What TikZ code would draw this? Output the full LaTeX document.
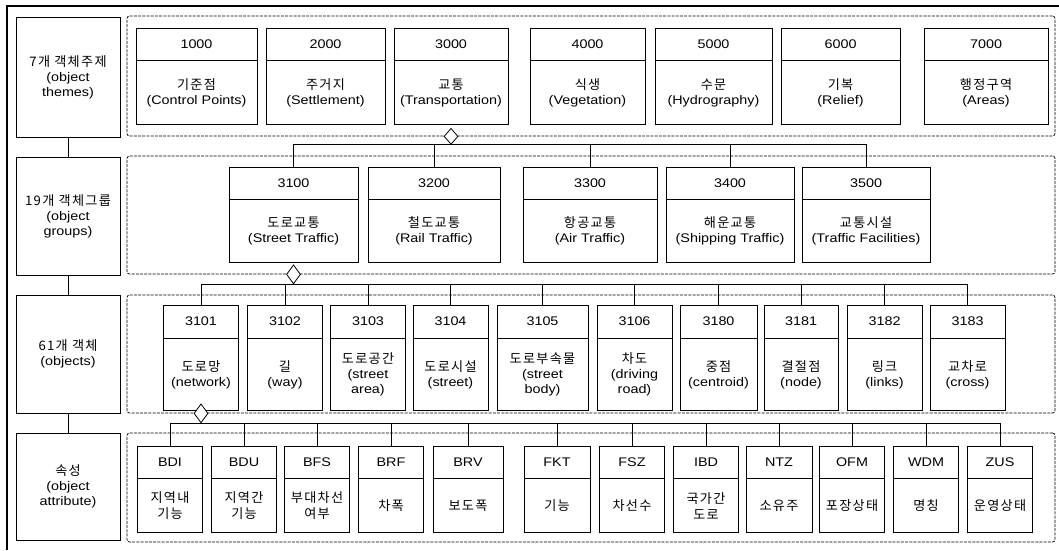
\documentclass[tikz,border=0pt]{standalone}
\usepackage{fontspec}
\setmainfont{Liberation Sans}[FakeStretch=1.15]
\newfontfamily\kr{Noto Sans CJK KR}[Scale=1.05,LetterSpace=10]
\usetikzlibrary{shapes.geometric}
\begin{document}
\begin{tikzpicture}[x=1pt,y=-1pt,
  every node/.style={font=\fontsize{12.5}{15}\selectfont},
  numbox/.style={draw, line width=0.8pt, inner sep=0pt, minimum height=32},
  labbox/.style={draw, line width=0.8pt, inner sep=0pt, align=center, anchor=north},
  lbox/.style={draw, line width=0.8pt, inner sep=0pt, align=center, minimum width=104},
  container/.style={draw, line width=0.7pt, dash pattern=on 3pt off 1.2pt, rounded corners=2.5pt, inner sep=0pt, minimum width=928},
  conn/.style={line width=0.7pt},
  agg/.style={diamond, draw, line width=0.8pt, fill=white, inner sep=0pt, minimum width=14, minimum height=19}]
\useasboundingbox (0,0) rectangle (1059,550);
\coordinate (fb) at (7,550);
\coordinate (fc) at (7,6);
\coordinate (fr) at (1059,6);
\draw[line width=1.6pt] (fb) -- (fc) -- (fr);

% containers
\node[container, minimum height=120] (C1) at (591,76) {};
\node[container, minimum height=118] (C2) at (591,215) {};
\node[container, minimum height=118] (C3) at (591,354) {};
\node[container, minimum height=109] (C4) at (591,487.5) {};

% left labels
\node[lbox, minimum height=120] (L1) at (68,77) {{\kr 7개 객체주제}\\(object\\themes)};
\node[lbox, minimum height=118] (L2) at (68,216) {{\kr 19개 객체그룹}\\(object\\groups)};
\node[lbox, minimum height=118] (L3) at (68,354) {{\kr 61개 객체}\\(objects)};
\node[lbox, minimum height=107] (L4) at (68,486.5) {{\kr 속성}\\(object\\attribute)};
\draw[conn] (L1.south) -- (L2.north);
\draw[conn] (L2.south) -- (L3.north);
\draw[conn] (L3.south) -- (L4.north);

% row 1: object themes
\foreach \id/\cx/\w/\ko/\en in {1000/196.5/121/기준점/Control Points, 2000/325.5/119/주거지/Settlement, 3000/451/114/교통/Transportation, 4000/587.5/115/식생/Vegetation, 5000/713.5/117/수문/Hydrography, 6000/840.5/119/기복/Relief, 7000/986/124/행정구역/Areas}{
  \node[numbox, minimum width=\w] (n\id) at (\cx,44) {\id};
  \node[labbox, minimum width=\w, minimum height=64] (l\id) at (n\id.south) {{\kr \ko}\\(\en)};
}

% row 2: object groups
\foreach \id/\cx/\w/\ko/\en in {3100/293.5/129/도로교통/Street Traffic, 3200/434/132/철도교통/Rail Traffic, 3300/590/134/항공교통/Air Traffic, 3400/730/128/해운교통/Shipping Traffic, 3500/866/128/교통시설/Traffic Facilities}{
  \node[numbox, minimum width=\w] (n\id) at (\cx,183) {\id};
  \node[labbox, minimum width=\w, minimum height=63] (l\id) at (n\id.south) {{\kr \ko}\\(\en)};
}

% row 3: objects
\foreach \id/\cx/\w/\ko/\en in {3101/201/75/도로망/network, 3102/285/75/길/way, 3103/368/75/도로공간/street\\area, 3104/450.5/75/도로시설/street, 3105/542.5/91/도로부속물/street\\body, 3106/634.5/75/차도/driving\\road, 3180/718.5/77/중점/centroid, 3181/801/74/결절점/node, 3182/884.5/75/링크/links, 3183/967.5/75/교차로/cross}{
  \node[numbox, minimum width=\w, minimum height=33] (n\id) at (\cx,321.5) {\id};
  \node[labbox, minimum width=\w, minimum height=72] (l\id) at (n\id.south) {{\kr \ko}\\(\en)};
}

% row 4: attributes
\foreach \id/\cx/\w/\ko in {BDI/170/65/지역내\\기능, BDU/244/65/지역간\\기능, BFS/317/65/부대차선\\여부, BRF/391/65/차폭, BRV/468/70/보도폭, FKT/557/66/기능, FSZ/632/65/차선수, IBD/706/65/국가간\\도로, NTZ/779/66/소유주, OFM/852/65/포장상태, WDM/926/65/명칭, ZUS/1000/65/운영상태}{
  \node[numbox, minimum width=\w] (n\id) at (\cx,462) {\id};
  \node[labbox, minimum width=\w, minimum height=54, font=\fontsize{12.5}{16}\selectfont\kr] (l\id) at (n\id.south) {\ko};
}

% aggregation diamonds
\node[agg, minimum height=16] (D1) at (n3000 |- C1.south) {};
\node[agg] (D2) at (n3100 |- C2.south) {};
\node[agg] (D3) at (n3101 |- C3.south) {};

% connectors
\draw[conn] (n3100.north) |- (D1.south) -| (n3500.north);
\foreach \id in {3200,3300,3400} \draw[conn] (n\id.north) -- (n\id.north |- D1.south);
\draw[conn] (n3101.north) |- (D2.south) -| (n3183.north);
\foreach \id in {3102,3103,3104,3105,3106,3180,3181,3182} \draw[conn] (n\id.north) -- (n\id.north |- D2.south);
\draw[conn] (nBDI.north) |- (D3.south) -| (nZUS.north);
\foreach \id in {BDU,BFS,BRF,BRV,FKT,FSZ,IBD,NTZ,OFM,WDM} \draw[conn] (n\id.north) -- (n\id.north |- D3.south);
\end{tikzpicture}
\end{document}
